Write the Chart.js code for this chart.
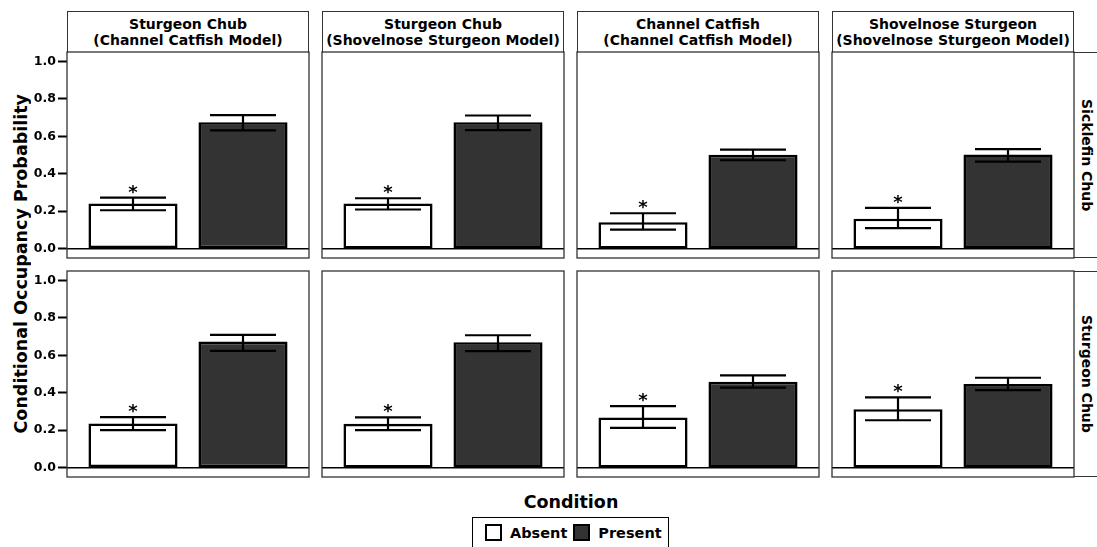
<!DOCTYPE html>
<html>
<head>
<meta charset="utf-8">
<script src="https://cdn.jsdelivr.net/npm/chart.js@4.4.1/dist/chart.umd.min.js"></script>
<style>
  body { margin: 0; background: #fff; }
  #fig { position: relative; width: 1097px; height: 547px; overflow: hidden; font-family: "DejaVu Sans", sans-serif; font-weight: bold; color: #000; }
  .strip { position: absolute; box-sizing: border-box; border: 1px solid #333; border-bottom: none; background: #fff;
           display: flex; align-items: center; justify-content: center; text-align: center;
           font-size: 14px; line-height: 15.5px; white-space: pre-line; }
  .rstrip { position: absolute; box-sizing: border-box; border-top: 1px solid #333; border-bottom: 1px solid #333;
            display: flex; align-items: center; justify-content: center; font-size: 14px; }
  .rstrip span { writing-mode: vertical-rl; }
  #ytitle { position: absolute; left: 0; top: 52px; width: 42px; height: 424px; display: flex; align-items: center; justify-content: center; font-size: 17.5px; }
  #ytitle span { writing-mode: vertical-rl; transform: rotate(180deg); white-space: nowrap; }
  #ltitle { position: absolute; left: 471px; top: 492px; width: 200px; text-align: center; font-size: 17.5px; line-height: 20px; }
  #legend { position: absolute; left: 472px; top: 517px; width: 197px; height: 40px; box-sizing: border-box; border: 1.5px solid #000;
            display: flex; align-items: flex-start; padding: 6px 0 0 12px; font-size: 14.5px; line-height: 18px; }
  .key { width: 17px; height: 17px; box-sizing: border-box; border: 2px solid #000; margin-right: 8px; }
  canvas { position: absolute; }
</style>
</head>
<body>
<div id="fig">
  <div id="ytitle"><span>Conditional Occupancy Probability</span></div>
  <div id="ltitle">Condition</div>
  <div id="legend"></div>
</div>
<script>
const conditions = ['Absent', 'Present'];
const conditionColors = ['#ffffff', '#333333'];
const columnLabels = [
  'Sturgeon Chub\n(Channel Catfish Model)',
  'Sturgeon Chub\n(Shovelnose Sturgeon Model)',
  'Channel Catfish\n(Channel Catfish Model)',
  'Shovelnose Sturgeon\n(Shovelnose Sturgeon Model)'
];
const rowLabels = ['Sicklefin Chub', 'Sturgeon Chub'];
const yTicks = [0, 0.2, 0.4, 0.6, 0.8, 1.0];
const sigLabels = ['*', ''];

// [Absent, Present] per column
const sicklefinMean  = [[0.241, 0.675], [0.241, 0.675], [0.141, 0.501], [0.160, 0.503]];
const sicklefinLower = [[0.205, 0.631], [0.209, 0.633], [0.102, 0.472], [0.109, 0.465]];
const sicklefinUpper = [[0.272, 0.713], [0.269, 0.711], [0.189, 0.529], [0.218, 0.531]];
const sturgeonMean   = [[0.236, 0.673], [0.234, 0.670], [0.268, 0.459], [0.312, 0.446]];
const sturgeonLower  = [[0.200, 0.623], [0.200, 0.622], [0.212, 0.427], [0.253, 0.414]];
const sturgeonUpper  = [[0.270, 0.709], [0.268, 0.707], [0.328, 0.493], [0.375, 0.480]];

const rows = [
  { mean: sicklefinMean, lower: sicklefinLower, upper: sicklefinUpper },
  { mean: sturgeonMean, lower: sturgeonLower, upper: sturgeonUpper }
];

const fig = document.getElementById('fig');
const PW = 242, PH = 206, M = 10;
const colLeft = c => 67 + 255 * c;
const rowTop = [52, 271];

// strips
columnLabels.forEach((lab, c) => {
  const d = document.createElement('div');
  d.className = 'strip';
  Object.assign(d.style, { left: colLeft(c) + 'px', top: '11px', width: PW + 'px', height: '42px' });
  d.textContent = lab;
  fig.appendChild(d);
});
rowLabels.forEach((lab, r) => {
  const d = document.createElement('div');
  d.className = 'rstrip';
  Object.assign(d.style, { left: '1074px', top: rowTop[r] + 'px', width: '26px', height: PH + 'px' });
  d.innerHTML = '<span>' + lab + '</span>';
  fig.appendChild(d);
});

// legend
const legend = document.getElementById('legend');
conditions.forEach((c, i) => {
  const k = document.createElement('div');
  k.className = 'key';
  k.style.background = conditionColors[i];
  legend.appendChild(k);
  const t = document.createElement('span');
  t.textContent = c;
  t.style.marginRight = i === 0 ? '6px' : '0';
  legend.appendChild(t);
});

function panelPlugin(lower, upper) {
  return {
    id: 'panel',
    beforeDatasetsDraw(chart) {
      const { ctx, chartArea, scales } = chart;
      const y0 = scales.y.getPixelForValue(0);
      ctx.save();
      ctx.strokeStyle = '#000';
      ctx.lineWidth = 1.5;
      ctx.beginPath();
      ctx.moveTo(chartArea.left, y0);
      ctx.lineTo(chartArea.right, y0);
      ctx.stroke();
      ctx.restore();
    },
    afterDatasetsDraw(chart) {
      const { ctx, scales } = chart;
      const xs = scales.x, ys = scales.y;
      ctx.save();
      ctx.strokeStyle = '#000';
      ctx.lineWidth = 2.2;
      conditions.forEach((c, i) => {
        const x = xs.getPixelForValue(i + 1);
        const xl = xs.getPixelForValue(i + 1 - 0.3);
        const xr = xs.getPixelForValue(i + 1 + 0.3);
        const yl = ys.getPixelForValue(lower[i]);
        const yu = ys.getPixelForValue(upper[i]);
        ctx.beginPath();
        ctx.moveTo(x, yl); ctx.lineTo(x, yu);
        ctx.moveTo(xl, yl); ctx.lineTo(xr, yl);
        ctx.moveTo(xl, yu); ctx.lineTo(xr, yu);
        ctx.stroke();
        if (sigLabels[i]) {
          ctx.fillStyle = '#000';
          ctx.font = 'bold 18px "DejaVu Sans"';
          ctx.textAlign = 'center';
          ctx.textBaseline = 'alphabetic';
          ctx.fillText(sigLabels[i], x, yu);
        }
      });
      ctx.restore();
    },
    afterDraw(chart) {
      const { ctx, chartArea } = chart;
      ctx.save();
      ctx.strokeStyle = '#333';
      ctx.lineWidth = 1.3;
      ctx.strokeRect(chartArea.left, chartArea.top, chartArea.right - chartArea.left, chartArea.bottom - chartArea.top);
      ctx.restore();
    }
  };
}

rows.forEach((row, r) => {
  for (let c = 0; c < 4; c++) {
    const first = c === 0;
    const canvas = document.createElement('canvas');
    const left = first ? 30 : colLeft(c) - M;
    const width = first ? (colLeft(c) - 30) + PW + M : PW + 2 * M;
    canvas.width = width;
    canvas.height = PH + 2 * M;
    canvas.style.left = left + 'px';
    canvas.style.top = (rowTop[r] - M) + 'px';
    fig.appendChild(canvas);

    new Chart(canvas, {
      type: 'bar',
      data: {
        datasets: [{
          data: conditions.map((cond, i) => ({ x: i + 1, y: row.mean[c][i] })),
          backgroundColor: conditionColors,
          borderColor: '#000',
          borderWidth: 2.6,
          borderSkipped: false,
          categoryPercentage: 0.81,
          barPercentage: 1.0
        }]
      },
      options: {
        responsive: false,
        animation: false,
        layout: { padding: { left: first ? 0 : M, right: M, top: M, bottom: M } },
        plugins: { legend: { display: false }, tooltip: { enabled: false } },
        scales: {
          x: {
            type: 'linear', min: 0.4, max: 2.6, display: false, offset: false,
            grid: { offset: false },
            afterBuildTicks: s => { s.ticks = conditions.map((cond, i) => ({ value: i + 1 })); }
          },
          y: {
            min: -0.05, max: 1.05,
            display: first,
            afterBuildTicks: s => { s.ticks = yTicks.map(v => ({ value: v })); },
            afterFit: s => { if (first) s.width = colLeft(0) - 30; },
            border: { display: false },
            grid: { display: true, drawOnChartArea: false, drawTicks: true, tickLength: 9, tickWidth: 2, tickColor: '#000' },
            ticks: {
              padding: 2, color: '#000',
              font: { family: 'DejaVu Sans', weight: 'bold', size: 12.5 },
              callback: v => v.toFixed(1)
            }
          }
        }
      },
      plugins: [panelPlugin(row.lower[c], row.upper[c])]
    });
  }
});
</script>
</body>
</html>
